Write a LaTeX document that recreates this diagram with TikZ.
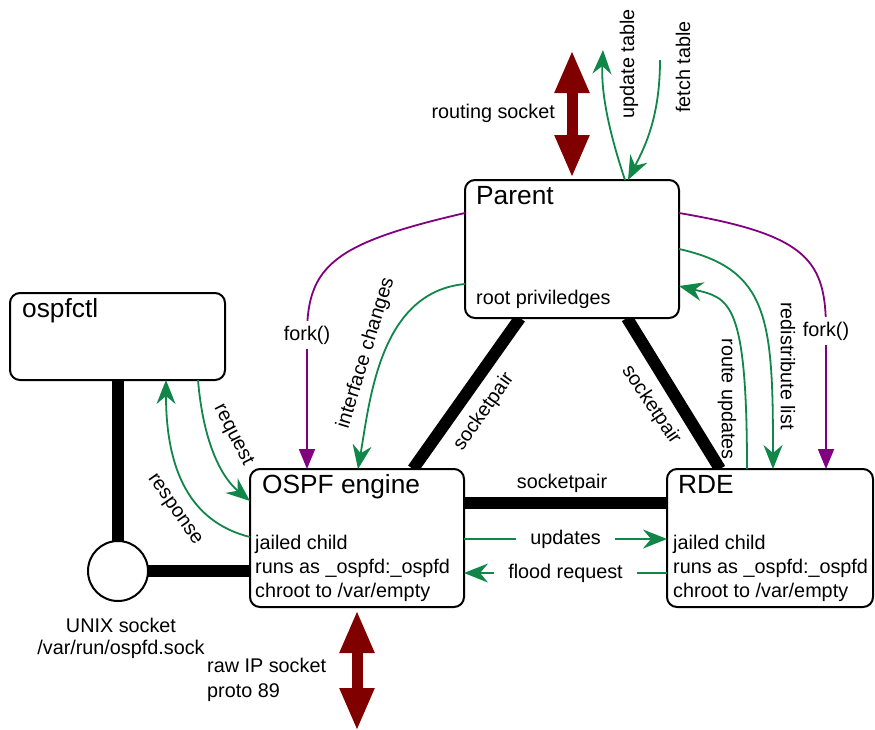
\documentclass[tikz,border=0pt]{standalone}
\usepackage{fontspec}
\setmainfont{Liberation Sans}
\usetikzlibrary{arrows.meta,calc,backgrounds}
\definecolor{flowgreen}{RGB}{16,134,72}
\definecolor{forkpurple}{RGB}{128,0,128}
\definecolor{sockred}{RGB}{128,0,0}

\begin{document}
\begin{tikzpicture}[x=1pt,y=-1pt,
  procbox/.style={draw, fill=white, line width=2pt, rounded corners=10pt,
                  anchor=north west, inner sep=0pt, outer sep=0pt},
  titletext/.style={font=\fontsize{26.3}{30}\selectfont, anchor=base west, inner sep=0pt},
  bodytext/.style={font=\fontsize{19.8}{24}\selectfont, inner sep=0pt},
  pipe/.style={line width=12pt, black},
  flow/.style={draw=flowgreen, line width=1.8pt,
               -{Stealth[length=24pt,width=19pt,inset=8pt]}},
  forkflow/.style={draw=forkpurple, line width=1.8pt,
                   -{Triangle[length=20pt,width=16pt]}},
  bigsock/.style={draw=sockred, line width=11pt,
                  {Triangle[length=43pt,width=32pt]}-{Triangle[length=43pt,width=32pt]}},
  gaplabel/.style={bodytext, fill=white, inner xsep=14pt, inner ysep=3pt}
]
\useasboundingbox (0,0) rectangle (875,729);

% process boxes
\node[procbox, minimum width=214pt, minimum height=138pt] (parent) at (465,180) {};
\node[procbox, minimum width=215pt, minimum height=87pt]  (ctl)    at (10,293)  {};
\node[procbox, minimum width=214pt, minimum height=138pt] (eng)    at (250,469) {};
\node[procbox, minimum width=206pt, minimum height=138pt] (rde)    at (667,469) {};
\node[draw, circle, fill=white, line width=2pt, minimum size=60pt,
      inner sep=0pt, outer sep=0pt] (sock) at (118,571) {};

% box texts
\node[titletext] (parentname) at (476,204) {Parent};
\node[bodytext, anchor=base west] (parentrole) at (476,304) {root priviledges};
\node[titletext] (ctlname) at (22,317) {ospfctl};
\node[titletext] (engname) at (262,493) {OSPF engine};
\node[bodytext, anchor=base west] (eng1) at (255,549) {jailed child};
\node[bodytext, anchor=base west] (eng2) at (255,573) {runs as \_ospfd:\_ospfd};
\node[bodytext, anchor=base west] (eng3) at (255,597) {chroot to /var/empty};
\node[titletext] (rdename) at (678,493) {RDE};
\node[bodytext, anchor=base west] (rde1) at (673,549) {jailed child};
\node[bodytext, anchor=base west] (rde2) at (673,573) {runs as \_ospfd:\_ospfd};
\node[bodytext, anchor=base west] (rde3) at (673,597) {chroot to /var/empty};

% socket texts
\node[bodytext, anchor=base] (sockname) at (121,632) {UNIX socket};
\node[bodytext, anchor=base] (sockpath) at (121,654) {/var/run/ospfd.sock};
\node[bodytext, anchor=base west] (rawip1) at (207,672) {raw IP socket};
\node[bodytext, anchor=base west] (rawip2) at (207,697) {proto 89};
\node[bodytext, anchor=base east] (rtsock) at (555,118) {routing socket};

% socketpair pipes behind the boxes
\begin{scope}[on background layer]
  \draw[pipe] (sock.north) -- (sock.north |- ctl.south);
  \draw[pipe] (sock.east) -- (sock.east -| eng.west);
  \draw[pipe] ($(parent.south west)+(55,0)$) -- ($(eng.north west)+(163,0)$);
  \draw[pipe] ($(parent.south west)+(162,0)$) -- ($(rde.north west)+(53,0)$);
  \draw[pipe] ($(eng.north east)+(0,34)$) -- ($(rde.north west)+(0,34)$);
\end{scope}
\node[bodytext, rotate=55]  (sp1) at (484,412) {socketpair};
\node[bodytext, rotate=-56] (sp2) at (651,405) {socketpair};
\node[bodytext, anchor=base] (sp3) at (562,488) {socketpair};

% kernel sockets
\coordinate (rtsocktip) at (572,50);
\coordinate (rawtip) at (357,731);
\draw[bigsock] ([yshift=2pt]parent.north) -- (rtsocktip);
\draw[bigsock] ([yshift=-3pt]eng.south) -- (rawtip);

% routing table access
\coordinate (updtab) at (603,50);
\coordinate (fetchtab) at (660,60);
\draw[flow] ($(parent.north west)+(160,0)$) .. controls +(-15,-45) and +(-2,45) .. (updtab);
\draw[flow] (fetchtab) .. controls +(0,60) and +(15,-30) .. ($(parent.north west)+(163,0)$);
\node[bodytext, rotate=90] (updlbl) at (629,64) {update table};
\node[bodytext, rotate=90] (fetchlbl) at (683,67) {fetch table};

% fork
\coordinate (forkLmid) at (307,335);
\coordinate (forkRmid) at (826,331);
\draw[forkflow] ($(parent.north west)+(0,33)$) .. controls +(-130,30) and +(0,-70) .. (forkLmid)
   node[gaplabel, inner xsep=2pt, inner ysep=5pt] (forkL) {fork()}
   -- ($(eng.north west)+(57,0)$);
\draw[forkflow] ($(parent.north east)+(0,33)$) .. controls +(130,22) and +(0,-70) .. (forkRmid)
   node[gaplabel, inner xsep=2pt, inner ysep=5pt] (forkR) {fork()}
   -- ($(rde.north west)+(159,0)$);

% parent <-> children messages
\draw[flow] ($(parent.north west)+(0,104)$) .. controls +(-85,8) and +(12,-70) .. ($(eng.north west)+(108,0)$);
\node[bodytext, rotate=73] (ifc) at (366,353) {interface changes};
\draw[flow] ($(parent.north east)+(0,69)$) .. controls +(90,20) and +(0,-150) .. ($(rde.north west)+(106,0)$);
\node[bodytext, rotate=-90] (redis) at (788,366) {redistribute list};
\draw[flow] ($(rde.north west)+(80,0)$) .. controls +(0,-170) and +(50,12) .. ($(parent.north east)+(0,106)$);
\node[bodytext, rotate=-90] (rtupd) at (727,399) {route updates};

% control socket messages
\draw[flow] ($(ctl.south west)+(188,0)$) .. controls +(5,60) and +(-30,-25) .. ($(eng.north west)+(0,32)$);
\node[bodytext, rotate=-63] (req) at (233,435) {request};
\draw[flow] ($(eng.north west)+(0,68)$) .. controls +(-60,-15) and +(0,90) .. ($(ctl.south west)+(156,0)$);
\node[bodytext, rotate=-55] (resp) at (174,510) {response};

% engine <-> RDE messages
\draw[flow] ($(eng.north east)+(0,70)$) -- node[gaplabel] (updl) {updates} ($(rde.north west)+(0,70)$);
\draw[flow] ($(rde.north west)+(0,104)$) -- node[gaplabel] (floodl) {flood request} ($(eng.north east)+(0,104)$);
\end{tikzpicture}
\end{document}
